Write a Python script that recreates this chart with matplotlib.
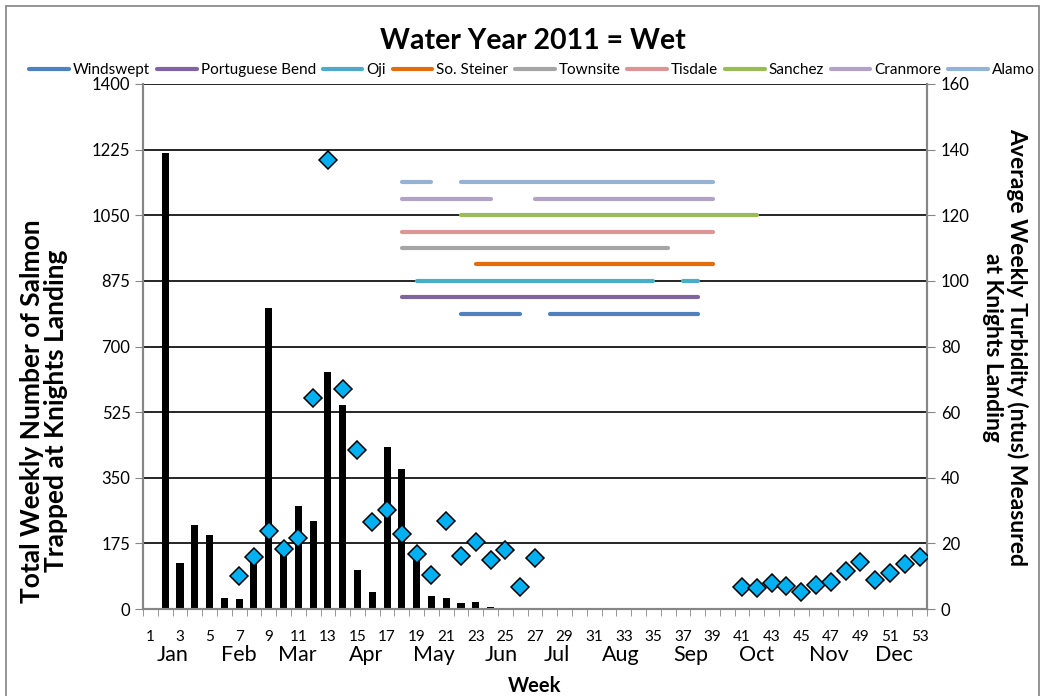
import numpy as np
import matplotlib
matplotlib.use("Agg")
from matplotlib import pyplot as plt
from matplotlib.patches import Rectangle

plt.rcParams['font.family'] = ['Lato', 'DejaVu Sans']

# weekly salmon catch (left axis), weeks 1..53
weeks = list(range(1, 54))
salmon = [0, 1217, 124, 223, 198, 30, 27, 135, 802, 160, 276, 234, 633, 543, 105, 45,
          433, 373, 148, 34, 30, 16, 20, 5, 0, 0, 0, 0, 0, 0, 0, 0, 0, 0, 0, 0,
          0, 0, 0, 0, 0, 2, 2, 2, 0, 0, 0, 0, 2, 2, 0, 0, 0]

# average weekly turbidity (right axis)
turb_weeks = [7, 8, 9, 10, 11, 12, 13, 14, 15, 16, 17, 18, 19, 20, 21, 22, 23, 24, 25, 26, 27,
              41, 42, 43, 44, 45, 46, 47, 48, 49, 50, 51, 52, 53]
turbidity = [10.1, 16.0, 23.8, 18.3, 21.7, 64.3, 136.9, 67.2, 48.4, 26.5, 30.3, 22.8, 16.8, 10.5,
             26.9, 16.1, 20.4, 15.0, 18.0, 6.8, 15.4,
             6.8, 6.5, 8.0, 7.1, 5.3, 7.3, 8.3, 11.7, 14.3, 8.8, 10.9, 13.7, 15.8]

# site periods (week ranges) drawn as lines at fixed right-axis levels
sites = ["Windswept", "Portuguese Bend", "Oji", "So. Steiner", "Townsite",
         "Tisdale", "Sanchez", "Cranmore", "Alamo"]
site_levels = [90, 95, 100, 105, 110, 115, 120, 125, 130]
site_periods = [
    [(22, 26), (28, 38)],
    [(18, 38)],
    [(19, 35), (37, 38)],
    [(23, 39)],
    [(18, 36)],
    [(18, 39)],
    [(22, 42)],
    [(18, 24), (27, 39)],
    [(18, 20), (22, 39)],
]
site_colors = ["#4F81BD", "#8064A2", "#4BACC6", "#E46C0A", "#A5A5A5",
               "#DA9694", "#9BBB59", "#B3A2C7", "#95B3D7"]

months = ["Jan", "Feb", "Mar", "Apr", "May", "Jun", "Jul", "Aug", "Sep", "Oct", "Nov", "Dec"]
month_pos = [2.5, 7.0, 10.9, 15.6, 20.2, 24.7, 28.5, 32.8, 37.5, 42.0, 46.9, 51.3]

W, H = 1044, 696
fig = plt.figure(figsize=(W / 100, H / 100), dpi=100)
ax = fig.add_axes([143 / W, 1 - 609 / H, (927 - 143) / W, (609 - 84) / H])

grey = "#868686"
ax.bar(weeks, salmon, width=0.48, color="black", zorder=2)
ax.set_xlim(0.5, 53.5)
ax.set_ylim(0, 1400)
ax.set_yticks(np.arange(0, 1401, 175))
ax.yaxis.grid(True, color="black", linewidth=1.2, zorder=0)
ax.set_axisbelow(True)
ax.tick_params(axis="y", direction="out", length=6, color=grey, labelsize=12, pad=3)
ax.set_xticks(list(range(1, 54, 2)))
ax.set_xticks(np.arange(0.5, 53.6, 1), minor=True)
ax.tick_params(axis="x", which="major", length=0, labelsize=11, pad=15)
ax.tick_params(axis="x", which="minor", direction="out", length=5, color=grey)
for s in ["left", "bottom", "right"]:
    ax.spines[s].set_color(grey)
    ax.spines[s].set_linewidth(1.5)
ax.spines["top"].set_visible(False)

for m, p in zip(months, month_pos):
    ax.text(p, -0.087, m, transform=ax.get_xaxis_transform(), ha="center", va="center",
            fontsize=15.5)
ax.text(0.5, -0.147, "Week", transform=ax.transAxes, ha="center", va="center",
        fontsize=14.5, fontweight="bold")

ax2 = ax.twinx()
ax2.set_ylim(0, 160)
ax2.set_yticks(np.arange(0, 161, 20))
ax2.tick_params(axis="y", direction="out", length=6, color=grey, labelsize=12, pad=4)
for s in ["left", "bottom", "right"]:
    ax2.spines[s].set_color(grey)
    ax2.spines[s].set_linewidth(1.5)
ax2.spines["top"].set_visible(False)

handles = []
for name, lvl, periods, col in zip(sites, site_levels, site_periods, site_colors):
    for a, b in periods:
        h, = ax2.plot([a, b], [lvl, lvl], color=col, linewidth=3, solid_capstyle="round",
                      zorder=3)
    handles.append(h)

ax2.plot(turb_weeks, turbidity, linestyle="none", marker="D", markersize=9,
         markerfacecolor="#00B0F0", markeredgecolor="black", markeredgewidth=1.1, zorder=4)

fig.legend(handles, sites, loc="center", bbox_to_anchor=(532 / W, 1 - 70 / H), ncol=9,
           frameon=False, fontsize=11, handlelength=2.6, handletextpad=0.25,
           columnspacing=0.45, borderpad=0)

fig.text(533 / W, 1 - 41 / H, "Water Year 2011 = Wet", ha="center", va="center",
         fontsize=20.5, fontweight="bold")
fig.text(44 / W, 1 - 411 / H, "Total Weekly Number of Salmon\nTrapped at Knights Landing",
         rotation=90, ha="center", va="center", fontsize=19, fontweight="bold",
         multialignment="center", linespacing=1.0)
fig.text(1005 / W, 1 - 347 / H, "Average Weekly Turbidity (ntus) Measured\nat Knights Landing",
         rotation=-90, ha="center", va="center", fontsize=16.5, fontweight="bold",
         multialignment="center", linespacing=1.15)

fig.patches.append(Rectangle((6 / W, -0.05), (1039 - 6) / W, 1.05 - 6 / H,
                             transform=fig.transFigure, fill=False, edgecolor="#8C8C8C",
                             linewidth=1.3))

fig.savefig("out.png", dpi=100)
